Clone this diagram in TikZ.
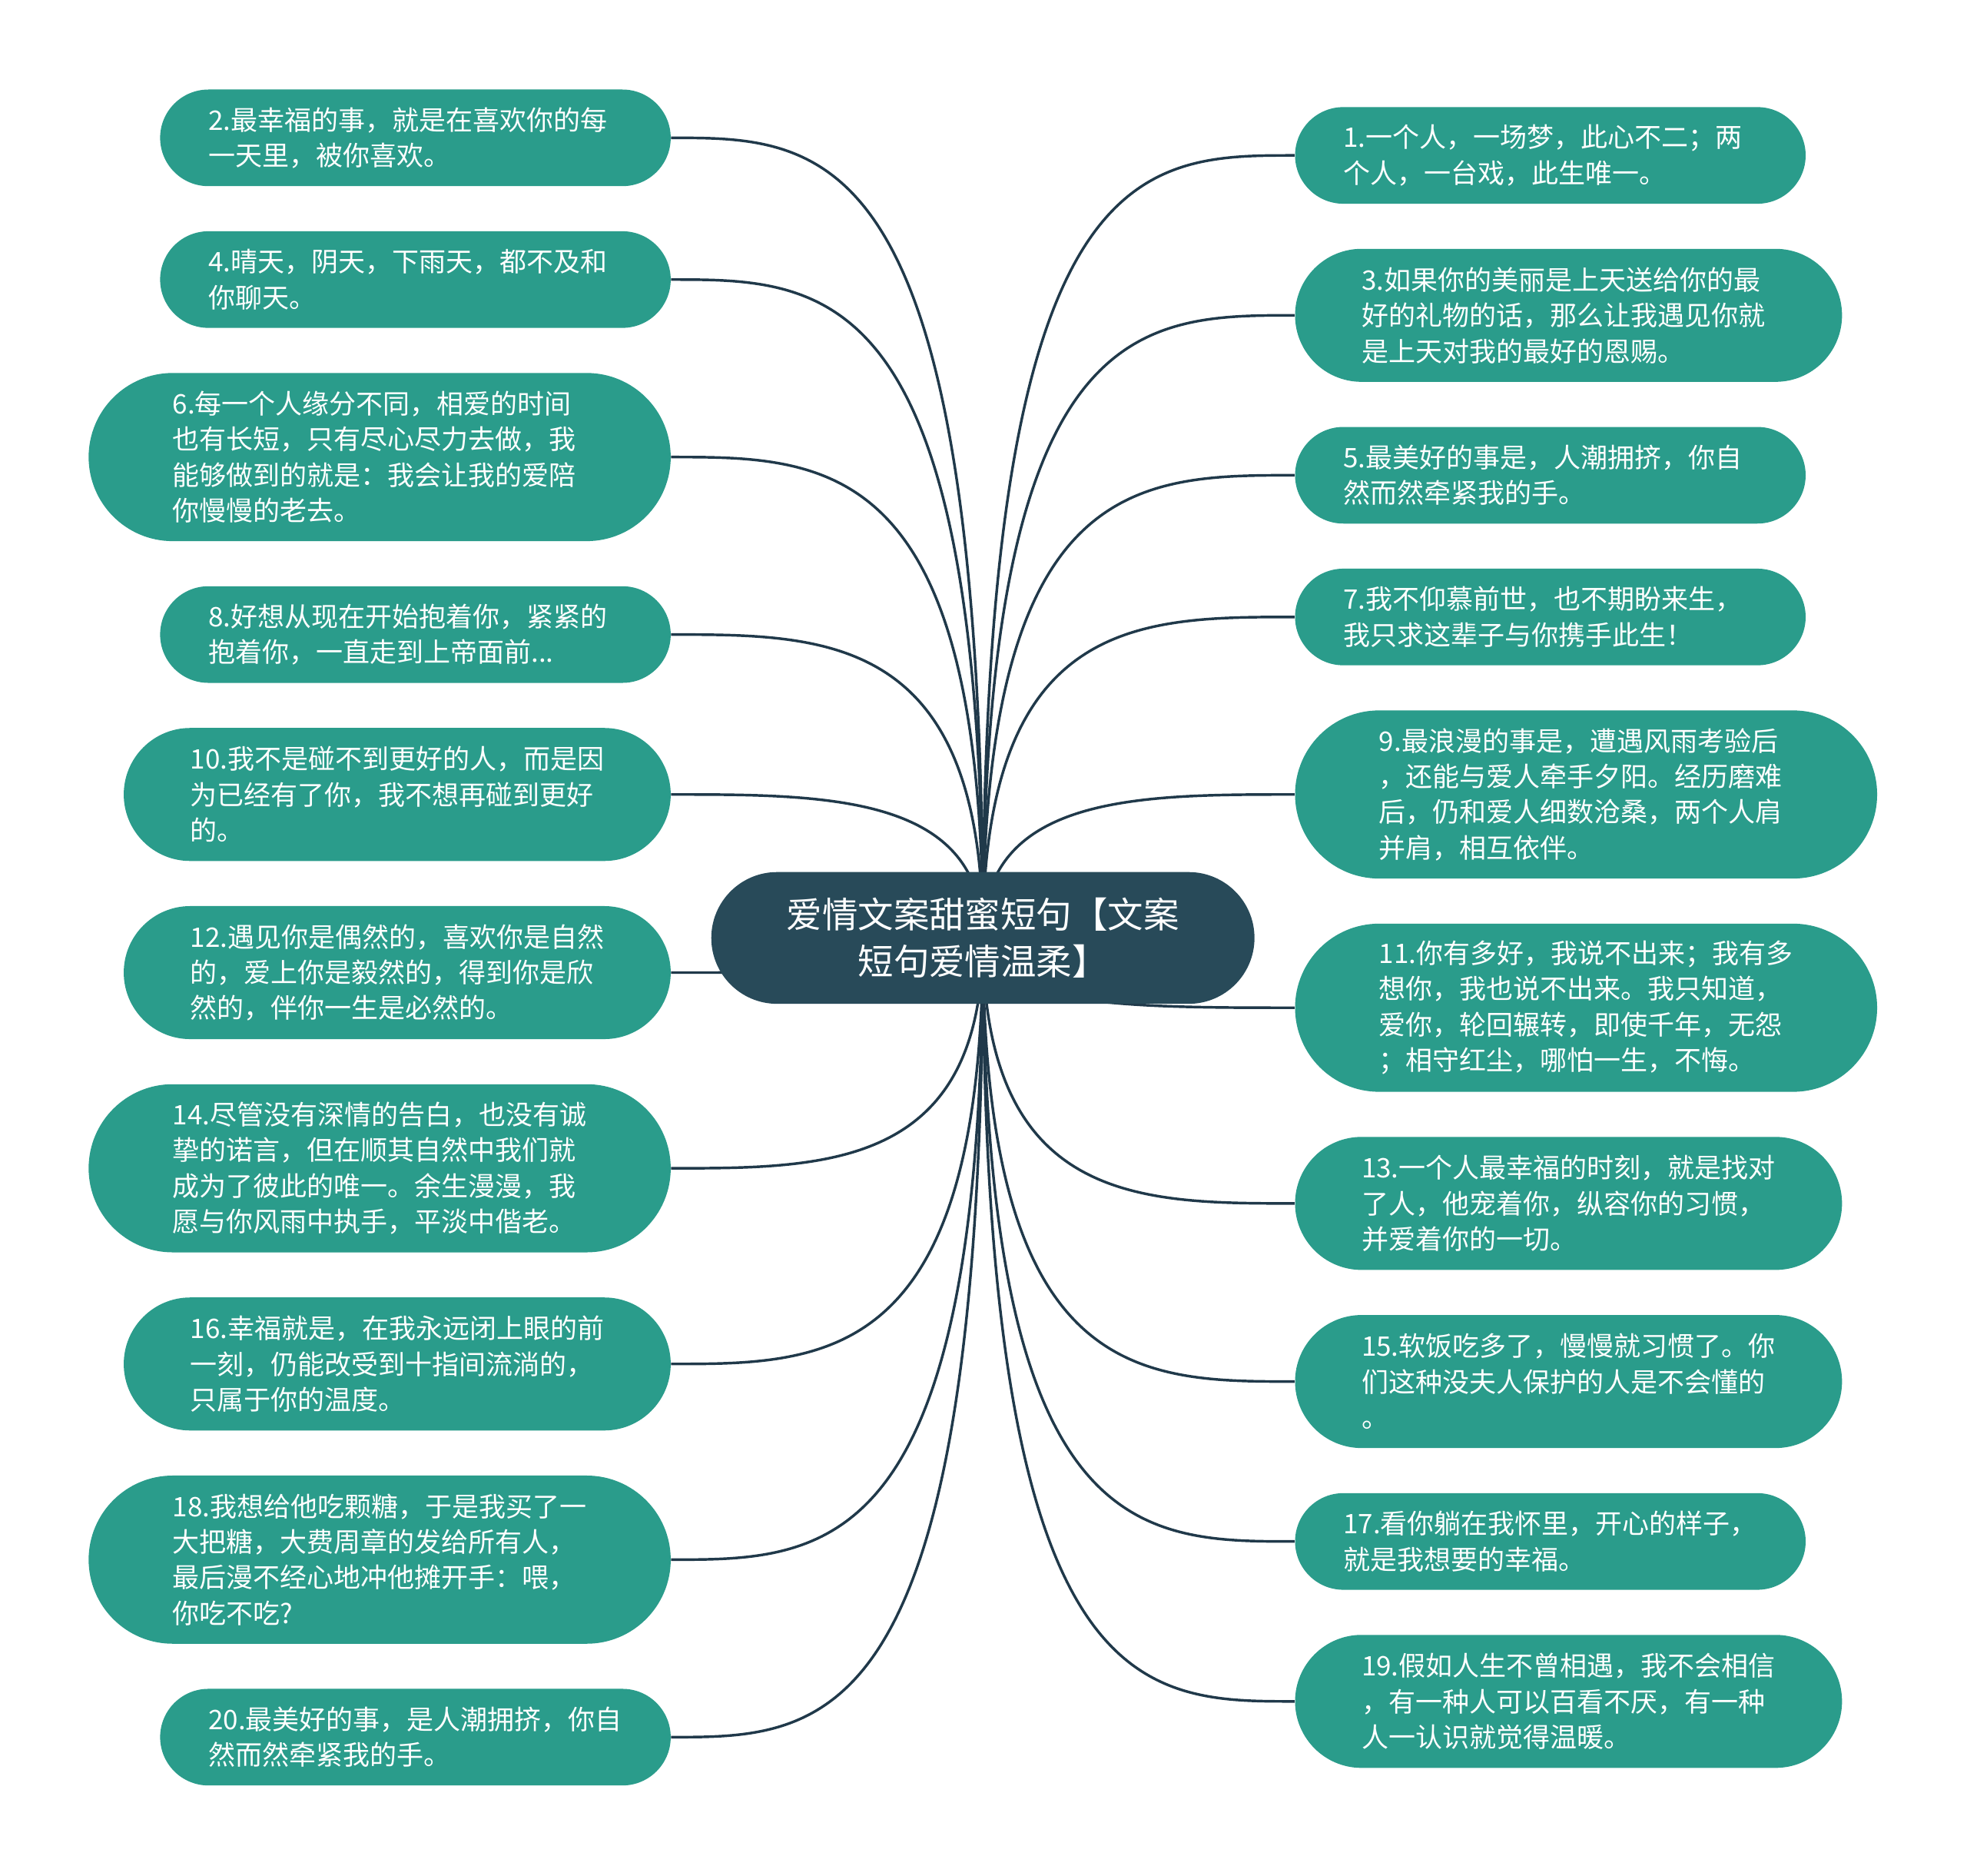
\documentclass[tikz,border=0pt]{standalone}
\usepackage{fontspec}
\setmainfont{Noto Sans CJK SC}
\usetikzlibrary{calc,positioning,backgrounds}
\definecolor{leafteal}{HTML}{2A9C8B}
\definecolor{rootslate}{HTML}{284A59}
\definecolor{linkslate}{HTML}{20394A}
\tikzset{
  leaf/.style={fill=leafteal, text=white, align=left, text width=6.6cm, inner ysep=0pt,
    font=\fontsize{12.2pt}{16.2pt}\selectfont},
  twoline/.style={leaf, minimum height=1.54cm, inner xsep=0.77cm, rounded corners=0.77cm},
  threeline/.style={leaf, minimum height=2.12cm, inner xsep=1.06cm, rounded corners=1.06cm},
  fourline/.style={leaf, minimum height=2.68cm, inner xsep=1.34cm, rounded corners=1.34cm},
  rootblock/.style={fill=rootslate, text=white, align=center, minimum width=8.66cm,
    minimum height=2.1cm, rounded corners=1.05cm, font=\fontsize{16.2pt}{21pt}\selectfont},
  link/.style={draw=linkslate, line width=1.2pt}
}

\begin{document}
\begin{tikzpicture}[node distance=0.705cm]
  \useasboundingbox (0,0) rectangle (31.36,-29.9);

  \node[rootblock] (root) at (15.67,-14.95) {爱情文案甜蜜短句【文案\\短句爱情温柔】};

  % left column
  \node[twoline, anchor=north east] (q2) at (10.7,-1.42) {2.最幸福的事，就是在喜欢你的每\\一天里，被你喜欢。};
  \node[twoline, below=of q2.south east, anchor=north east] (q4) {4.晴天，阴天，下雨天，都不及和\\你聊天。};
  \node[fourline, below=of q4.south east, anchor=north east] (q6) {6.每一个人缘分不同，相爱的时间\\也有长短，只有尽心尽力去做，我\\能够做到的就是：我会让我的爱陪\\你慢慢的老去。};
  \node[twoline, below=of q6.south east, anchor=north east] (q8) {8.好想从现在开始抱着你，紧紧的\\抱着你，一直走到上帝面前...};
  \node[threeline, below=of q8.south east, anchor=north east] (q10) {10.我不是碰不到更好的人，而是因\\为已经有了你，我不想再碰到更好\\的。};
  \node[threeline, below=of q10.south east, anchor=north east] (q12) {12.遇见你是偶然的，喜欢你是自然\\的，爱上你是毅然的，得到你是欣\\然的，伴你一生是必然的。};
  \node[fourline, below=of q12.south east, anchor=north east] (q14) {14.尽管没有深情的告白，也没有诚\\挚的诺言，但在顺其自然中我们就\\成为了彼此的唯一。余生漫漫，我\\愿与你风雨中执手，平淡中偕老。};
  \node[threeline, below=of q14.south east, anchor=north east] (q16) {16.幸福就是，在我永远闭上眼的前\\一刻，仍能改受到十指间流淌的，\\只属于你的温度。};
  \node[fourline, below=of q16.south east, anchor=north east] (q18) {18.我想给他吃颗糖，于是我买了一\\大把糖，大费周章的发给所有人，\\最后漫不经心地冲他摊开手：喂，\\你吃不吃?};
  \node[twoline, below=of q18.south east, anchor=north east] (q20) {20.最美好的事，是人潮拥挤，你自\\然而然牵紧我的手。};

  % right column
  \node[twoline, anchor=north west] (q1) at (20.64,-1.7) {1.一个人，一场梦，此心不二；两\\个人，一台戏，此生唯一。};
  \node[threeline, below=of q1.south west, anchor=north west] (q3) {3.如果你的美丽是上天送给你的最\\好的礼物的话，那么让我遇见你就\\是上天对我的最好的恩赐。};
  \node[twoline, below=of q3.south west, anchor=north west] (q5) {5.最美好的事是，人潮拥挤，你自\\然而然牵紧我的手。};
  \node[twoline, below=of q5.south west, anchor=north west] (q7) {7.我不仰慕前世，也不期盼来生，\\我只求这辈子与你携手此生！};
  \node[fourline, below=of q7.south west, anchor=north west] (q9) {9.最浪漫的事是，遭遇风雨考验后\\，还能与爱人牵手夕阳。经历磨难\\后，仍和爱人细数沧桑，两个人肩\\并肩，相互依伴。};
  \node[fourline, below=of q9.south west, anchor=north west] (q11) {11.你有多好，我说不出来；我有多\\想你，我也说不出来。我只知道，\\爱你，轮回辗转，即使千年，无怨\\；相守红尘，哪怕一生，不悔。};
  \node[threeline, below=of q11.south west, anchor=north west] (q13) {13.一个人最幸福的时刻，就是找对\\了人，他宠着你，纵容你的习惯，\\并爱着你的一切。};
  \node[threeline, below=of q13.south west, anchor=north west] (q15) {15.软饭吃多了，慢慢就习惯了。你\\们这种没夫人保护的人是不会懂的\\。};
  \node[twoline, below=of q15.south west, anchor=north west] (q17) {17.看你躺在我怀里，开心的样子，\\就是我想要的幸福。};
  \node[threeline, below=of q17.south west, anchor=north west] (q19) {19.假如人生不曾相遇，我不会相信\\，有一种人可以百看不厌，有一种\\人一认识就觉得温暖。};

  \begin{scope}[on background layer]
    \foreach \q in {q2,q4,q6,q8,q10,q12,q14,q16,q18,q20}
      \draw[link] (root.center) .. controls (root.center |- \q.east) and ($(root.center |- \q.east)!0.5!(\q.east)$) .. (\q.east);
    \foreach \q in {q1,q3,q5,q7,q9,q11,q13,q15,q17,q19}
      \draw[link] (root.center) .. controls (root.center |- \q.west) and ($(root.center |- \q.west)!0.5!(\q.west)$) .. (\q.west);
  \end{scope}
\end{tikzpicture}
\end{document}
